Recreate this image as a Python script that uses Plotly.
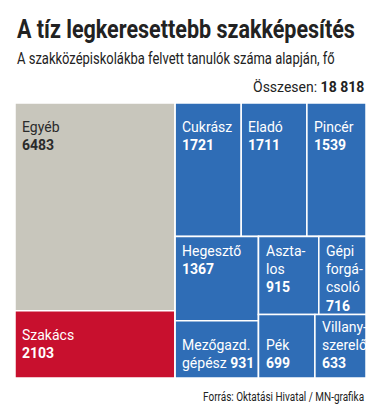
import json
import plotly.graph_objects as go

# ---------------- data ----------------
categories = ["Egyéb", "Szakács", "Cukrász", "Eladó", "Pincér", "Hegesztő",
              "Mezőgazd. gépész", "Asztalos", "Gépi forgácsoló", "Pék", "Villanyszerelő"]
values = [6483, 2103, 1721, 1711, 1539, 1367, 931, 915, 716, 699, 633]
# how the names are broken in the graphic
display_labels = ["Egyéb", "Szakács", "Cukrász", "Eladó", "Pincér", "Hegesztő",
                  "Mezőgazd.<br>gépész", "Aszta-<br>los", "Gépi<br>forgá-<br>csoló",
                  "Pék", "Villany-<br>szerelő"]
# grouping used by the layout (slice-dice hierarchy)
group_ids = ["Összes", "bal", "jobb", "felső", "alsó", "hcol", "rest", "rtop", "rbot"]
group_parents = ["", "Összes", "Összes", "jobb", "jobb", "alsó", "alsó", "rest", "rest"]
leaf_parents = ["bal", "bal", "felső", "felső", "felső", "hcol", "hcol",
                "rtop", "rtop", "rbot", "rbot"]

title = "A tíz legkeresettebb szakképesítés"
subtitle = "A szakközépiskolákba felvett tanulók száma alapján, fő"
source = "Forrás: Oktatási Hivatal / MN-grafika"

# ---------------- style ----------------
W, H = 380, 415
BOX = dict(x0=15, x1=366, y0=103, y1=378)  # px
GRAY, RED, BLUE = "#c8c6bc", "#c8102e", "#2f6db6"
color_of = {"Egyéb": GRAY, "Szakács": RED}
dark_text = {"Egyéb"}
valign = {"Szakács": "middle", "Mezőgazd. gépész": "bottom", "Pék": "bottom",
          "Villanyszerelő": "bottom"}
inline_value = {"Mezőgazd. gépész"}
FONT = "Roboto, Arial, sans-serif"

ids = group_ids + categories
parents = group_parents + leaf_parents
vals = [0] * len(group_ids) + values
colors = ["#ffffff"] * len(group_ids) + [color_of.get(c, BLUE) for c in categories]

fig = go.Figure(go.Treemap(
    ids=ids, labels=ids, parents=parents, values=vals,
    branchvalues="remainder", sort=False,
    marker=dict(colors=colors, line=dict(color="white", width=1.5),
                pad=dict(t=0, l=0, r=0, b=0)),
    tiling=dict(packing="slice-dice", pad=0),
    pathbar=dict(visible=False),
    textinfo="none", hoverinfo="label+value",
    domain=dict(x=[BOX["x0"] / W, BOX["x1"] / W], y=[1 - BOX["y1"] / H, 1 - BOX["y0"] / H]),
    root=dict(color="white"),
))

# replicate the slice-dice tiling to place the labels
children = {i: [] for i in ids}
for i, p in zip(ids, parents):
    if p:
        children[p].append(i)
val_of = dict(zip(ids, vals))

def total(n):
    return val_of[n] + sum(total(k) for k in children[n])

boxes = {}

def tile(n, x0, x1, y0, y1, depth):
    boxes[n] = (x0, x1, y0, y1)
    kids = children[n]
    if not kids:
        return
    tot = sum(total(k) for k in kids)
    pos = x0 if depth % 2 == 0 else y0
    for k in kids:
        f = total(k) / tot
        if depth % 2 == 0:
            w = (x1 - x0) * f
            tile(k, pos, pos + w, y0, y1, depth + 1)
            pos += w
        else:
            h = (y1 - y0) * f
            tile(k, x0, x1, pos, pos + h, depth + 1)
            pos += h

tile("Összes", BOX["x0"], BOX["x1"], BOX["y0"], BOX["y1"], 0)

annotations = []
for c, lab, v in zip(categories, display_labels, values):
    x0, x1, y0, y1 = boxes[c]
    sep = " " if c in inline_value else "<br>"
    txt = f"{lab}{sep}<b>{v}</b>"
    va = valign.get(c, "top")
    if va == "top":
        yy, ys = 1 - y0 / H, -(14 if y0 == BOX["y0"] else 4)
    elif va == "bottom":
        yy, ys = 1 - y1 / H, 5
    else:
        yy, ys = 1 - (y0 + y1) / 2 / H, 0
    annotations.append(dict(
        x=x0 / W, y=yy, xref="paper", yref="paper", xanchor="left", yanchor=va,
        xshift=5, yshift=ys, text=txt, showarrow=False, align="left",
        font=dict(family=FONT, size=14,
                  color="#2b2b2b" if c in dark_text else "white")))

# condensed headline texts: index -> target width in px
condense = {}
total_str = f"{sum(values):,}".replace(",", " ")
condense[len(annotations)] = 338
annotations.append(dict(x=15 / W, y=1 - 29 / H, xref="paper", yref="paper", xanchor="left",
                        yanchor="middle", align="left", text=f"<b>{title}</b>", showarrow=False,
                        font=dict(family=FONT, size=26, color="#222")))
condense[len(annotations)] = 318
annotations.append(dict(x=15 / W, y=1 - 59 / H, xref="paper", yref="paper", xanchor="left",
                        yanchor="middle", align="left", text=subtitle, showarrow=False,
                        font=dict(family=FONT, size=16, color="#222")))
annotations.append(dict(x=366 / W, y=1 - 87 / H, xref="paper", yref="paper", xanchor="right",
                        yanchor="middle", align="right", text=f"Összesen: <b>{total_str}</b>",
                        showarrow=False, font=dict(family=FONT, size=14, color="#222")))
condense[len(annotations)] = 161
annotations.append(dict(x=366 / W, y=1 - 396 / H, xref="paper", yref="paper", xanchor="right",
                        yanchor="middle", align="right", text=source, showarrow=False,
                        font=dict(family=FONT, size=13, color="#222")))

fig.update_layout(width=W, height=H, margin=dict(l=0, r=0, t=0, b=0),
                  paper_bgcolor="white", annotations=annotations, showlegend=False)

post = """
document.body.style.margin = '0';
var targets = %s;
Object.keys(targets).forEach(function(i){
  var g = document.querySelector('g.annotation[data-index="' + i + '"]');
  if (!g) return;
  var t = g.querySelector('text.annotation-text');
  if (!t) return;
  var w = t.getComputedTextLength();
  if (w > targets[i]) {
    var s = targets[i] / w;
    var x = parseFloat(t.getAttribute('x')) || 0;
    var prev = t.getAttribute('transform') || '';
    t.setAttribute('transform', prev + ' translate(' + (x * (1 - s)) + ',0) scale(' + s + ',1)');
  }
});
""" % json.dumps({str(k): v for k, v in condense.items()})

fig.write_html("out.html", post_script=post, config={"displayModeBar": False})
